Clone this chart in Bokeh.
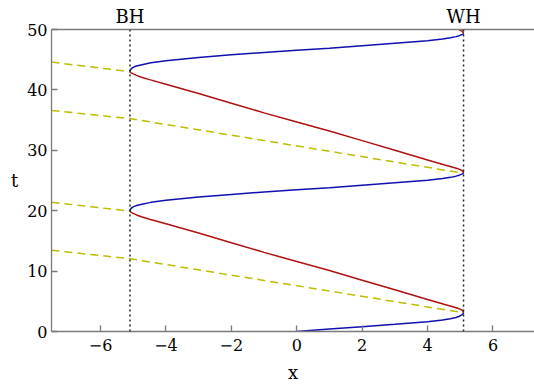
from bokeh.plotting import figure
from bokeh.models import Range1d, LinearAxis, FixedTicker, Span
from bokeh.embed import file_html
from bokeh.resources import INLINE

# horizon positions (black hole on the left, white hole on the right)
horizons = [-5.1, 5.1]
horizon_names = ["BH", "WH"]

x_ticks = [-6, -4, -2, 0, 2, 4, 6]
t_ticks = [0, 10, 20, 30, 40, 50]

# blue branches: crossing from BH towards WH
blue1_x = [0, 1, 2, 3, 4, 4.46, 4.7, 4.87, 4.97, 5.03, 5.07, 5.09, 5.1]
blue1_t = [0, 0.4, 0.8, 1.2, 1.62, 1.9, 2.1, 2.33, 2.52, 2.7, 2.85, 2.97, 3.1]

blue2_x = [-5.1, -5.09, -5.07, -5.03, -4.97, -4.87, -4.7, -4.46, -4.0, -3.0, -2.0, -1.0,
           0, 1, 2, 3, 4, 4.46, 4.7, 4.87, 4.97, 5.03, 5.07, 5.09, 5.1]
blue2_t = [19.92, 20.15, 20.35, 20.55, 20.72, 20.9, 21.12, 21.38, 21.72, 22.25, 22.7, 23.1,
           23.45, 23.8, 24.2, 24.62, 25.05, 25.32, 25.52, 25.72, 25.88, 26.02, 26.1, 26.15, 26.2]

blue3_x = [-5.1, -5.09, -5.07, -5.03, -4.97, -4.87, -4.7, -4.46, -4.0, -3.0, -2.0, -1.0,
           0, 1, 2, 3, 4, 4.46, 4.7, 4.87, 4.97, 5.03, 5.07, 5.09, 5.1]
blue3_t = [43.02, 43.25, 43.45, 43.65, 43.82, 44.0, 44.22, 44.48, 44.82, 45.35, 45.8, 46.2,
           46.55, 46.9, 47.3, 47.72, 48.15, 48.42, 48.62, 48.82, 48.98, 49.12, 49.2, 49.25, 49.3]

# red branches: falling back from WH to BH
red1_x = [5.1, 5.09, 5.06, 5.0, 4.9, 4.75, 4.5, 4.0, 3, 2, 1, 0, -1, -2, -3, -4,
          -4.5, -4.75, -4.9, -5.0, -5.06, -5.09, -5.1]
red1_t = [3.1, 3.3, 3.5, 3.7, 3.9, 4.15, 4.5, 5.3, 6.9, 8.5, 10.1, 11.6, 13.1, 14.7, 16.3, 17.85,
          18.6, 19.0, 19.3, 19.55, 19.72, 19.83, 19.92]

red2_x = [5.1, 5.09, 5.06, 5.0, 4.9, 4.75, 4.5, 4.0, 3, 2, 1, 0, -1, -2, -3, -4,
          -4.5, -4.75, -4.9, -5.0, -5.06, -5.09, -5.1]
red2_t = [26.2, 26.4, 26.6, 26.8, 27.0, 27.25, 27.6, 28.4, 30.0, 31.6, 33.2, 34.7, 36.2, 37.8, 39.4, 40.95,
          41.7, 42.1, 42.4, 42.65, 42.82, 42.93, 43.02]

red3_x = [5.1, 5.09, 5.06, 5.0, 4.9, 4.75]
red3_t = [49.3, 49.5, 49.7, 49.9, 50.1, 50.35]

# dashed light rays
ray1_x = [-7.5, -5.1, 5.1]
ray1_t = [13.45, 12.05, 3.1]
ray2_x = [-7.5, -5.1]
ray2_t = [21.4, 19.92]
ray3_x = [-7.5, -5.1, 5.1]
ray3_t = [36.6, 35.25, 26.2]
ray4_x = [-7.5, -5.1]
ray4_t = [44.6, 43.02]

BLUE = "#1010b0"
RED = "#b01010"
YELLOW = "#bdbd00"
AXIS = "#7a7a7a"
TEXT = "#000000"
FONT = "DejaVu Serif"

p = figure(width=534, height=385, output_backend="svg", toolbar_location=None,
           x_range=Range1d(-7.5, 7.27), y_range=Range1d(0, 50),
           min_border_left=51, min_border_right=0, min_border_top=29, min_border_bottom=54)
p.outline_line_color = None
p.grid.visible = False
p.background_fill_color = "white"
p.border_fill_color = "white"

for ax in (p.xaxis[0], p.yaxis[0]):
    ax.axis_line_color = AXIS
    ax.axis_line_width = 1.3
    ax.major_tick_line_color = AXIS
    ax.major_tick_line_width = 1.3
    ax.major_tick_in = 6
    ax.major_tick_out = 0
    ax.minor_tick_line_color = None
    ax.major_label_text_font = FONT
    ax.major_label_text_font_size = "16px"
    ax.major_label_text_color = TEXT
    ax.axis_label_text_font = FONT
    ax.axis_label_text_font_style = "normal"
    ax.axis_label_text_font_size = "18px"
    ax.axis_label_text_color = TEXT

p.xaxis.ticker = FixedTicker(ticks=x_ticks)
p.xaxis.major_label_overrides = {v: (str(v) if v >= 0 else "\u2212" + str(-v)) for v in x_ticks}
p.xaxis.major_label_standoff = 7
p.xaxis.axis_label = "x"
p.xaxis.axis_label_standoff = 8

p.yaxis.ticker = FixedTicker(ticks=t_ticks)
p.yaxis.major_label_standoff = 4
p.yaxis.axis_label = "t"
p.yaxis.axis_label_standoff = 6
yax = p.yaxis[0]
if "axis_label_orientation" in yax.properties():
    yax.axis_label_orientation = "horizontal"

top = LinearAxis(ticker=FixedTicker(ticks=horizons),
                 major_label_overrides={h: n for h, n in zip(horizons, horizon_names)})
top.axis_line_color = AXIS
top.axis_line_width = 1.3
top.major_tick_line_color = None
top.major_tick_in = 0
top.major_tick_out = 0
top.minor_tick_line_color = None
top.minor_tick_in = 0
top.minor_tick_out = 0
top.major_label_text_font = FONT
top.major_label_text_font_size = "18px"
top.major_label_text_color = TEXT
top.major_label_standoff = 3
p.add_layout(top, "above")

for h in horizons:
    p.add_layout(Span(location=h, dimension="height", line_color="#222222",
                      line_width=1.5, line_dash="2 3"))

for xs, ts in ((ray1_x, ray1_t), (ray2_x, ray2_t), (ray3_x, ray3_t), (ray4_x, ray4_t)):
    p.line(xs, ts, line_color=YELLOW, line_width=1.5, line_dash="8 5")

for xs, ts in ((red1_x, red1_t), (red2_x, red2_t), (red3_x, red3_t)):
    p.line(xs, ts, line_color=RED, line_width=1.5)

for xs, ts in ((blue1_x, blue1_t), (blue2_x, blue2_t), (blue3_x, blue3_t)):
    p.line(xs, ts, line_color=BLUE, line_width=1.5)

open("out.html", "w").write(file_html(p, INLINE))
